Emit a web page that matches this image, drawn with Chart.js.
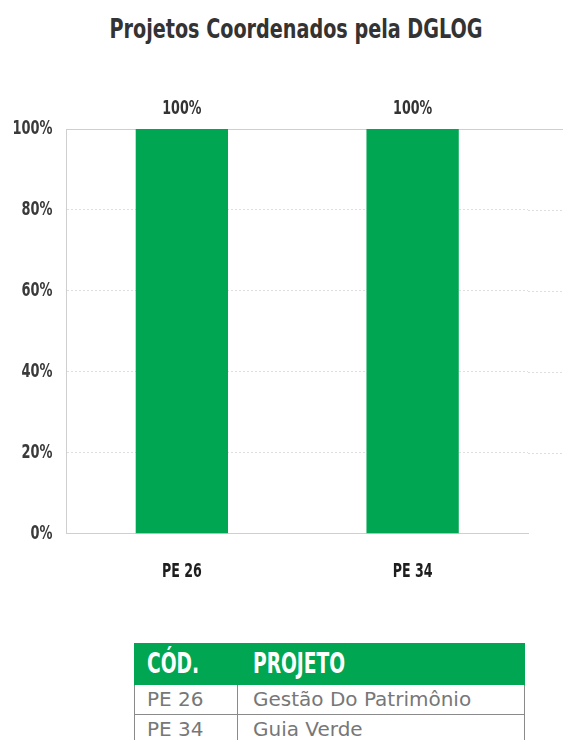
<!DOCTYPE html>
<html>
<head>
<meta charset="utf-8">
<script src="https://cdn.jsdelivr.net/npm/chart.js@4"></script>
<style>
  body { margin: 0; background: #fff; }
  #wrap { position: relative; width: 563px; height: 740px; overflow: hidden; }
  #title {
    position: absolute; left: 0; width: 592px; top: 14px; text-align: center;
    font-family: "DejaVu Sans Condensed", sans-serif; font-weight: bold; font-size: 26px;
    color: #333; transform: scaleX(0.82); transform-origin: 296px 0;
    line-height: 30px; margin: 0;
  }
  #projChart { position: absolute; left: 0; top: 0; }
  table {
    position: absolute; left: 134px; top: 643px;
    border-collapse: collapse; width: 391px;
  }
  th {
    background: #00a651; color: #fff; text-align: left;
    font-family: "DejaVu Sans Condensed", sans-serif;
    font-size: 28px; font-weight: bold; height: 40px; padding: 0 12px; line-height: 40px;
    border: 1px solid #00a651; white-space: nowrap;
  }
  th span { display: inline-block; transform: scaleX(0.74); transform-origin: 0 50%; }
  td {
    border: 1px solid #8a8a8a; color: #777; font-size: 20px;
    font-family: "DejaVu Sans", sans-serif;
    height: 29px; padding: 0 12px; line-height: 29px;
  }
  th:first-child, td:first-child { width: 78px; }
  th:last-child, td:last-child { padding-left: 15px; }
</style>
</head>
<body>
<div id="wrap">
  <h1 id="title">Projetos Coordenados pela DGLOG</h1>
  <canvas id="projChart" width="563" height="600"></canvas>
  <table id="projTable"><thead><tr></tr></thead><tbody></tbody></table>
</div>
<script>
// Dados do gráfico e da tabela
const categories = ['PE 26', 'PE 34'];
const percentValues = [100, 100];
const tableHeader = ['CÓD.', 'PROJETO'];
const projectNames = ['Gestão Do Patrimônio', 'Guia Verde'];

const FONT = '"DejaVu Sans Condensed", sans-serif';
const GREEN = '#00a651';

// texto estreito: fonte maior comprimida na horizontal
function narrowText(ctx, text, x, y, size, sx, align, color) {
  ctx.save();
  ctx.font = 'bold ' + size + 'px ' + FONT;
  ctx.fillStyle = color;
  ctx.textAlign = align;
  ctx.textBaseline = 'middle';
  ctx.translate(x, y);
  ctx.scale(sx, 1);
  ctx.fillText(text, 0, 0);
  ctx.restore();
}

// Rótulos dos eixos e dos valores desenhados com a fonte estreita
const narrowLabels = {
  id: 'narrowLabels',
  afterDatasetsDraw(chart) {
    const { ctx, scales, chartArea } = chart;
    const y = scales.y, x = scales.x;
    y.ticks.forEach(t => {
      narrowText(ctx, t.value + '%', chartArea.left - 14, y.getPixelForValue(t.value), 20, 0.72, 'right', '#3a3a3a');
    });
    categories.forEach((c, i) => {
      narrowText(ctx, c, x.getPixelForValue(i), chartArea.bottom + 38, 19, 0.74, 'center', '#1e1e1e');
    });
    chart.getDatasetMeta(0).data.forEach((bar, i) => {
      narrowText(ctx, percentValues[i] + '%', bar.x, bar.y - 20, 19, 0.74, 'center', '#333');
    });
  }
};

// Linhas de grade prolongadas até a borda direita; a de 100% é contínua
const gridExtend = {
  id: 'gridExtend',
  beforeDatasetsDraw(chart) {
    const { ctx, chartArea, scales } = chart;
    const y = scales.y;
    ctx.save();
    ctx.lineWidth = 1;
    y.ticks.forEach(t => {
      if (t.value === 0) return;
      const py = Math.round(y.getPixelForValue(t.value)) + 0.5;
      ctx.strokeStyle = t.value === y.max ? '#cfcfcf' : '#dedede';
      ctx.setLineDash(t.value === y.max ? [] : [2, 2]);
      ctx.beginPath();
      ctx.moveTo(t.value === y.max ? chartArea.left : chartArea.right, py);
      ctx.lineTo(chart.width, py);
      ctx.stroke();
    });
    ctx.restore();
  }
};

const ctx = document.getElementById('projChart').getContext('2d');
new Chart(ctx, {
  type: 'bar',
  data: {
    labels: categories,
    datasets: [{
      data: percentValues,
      backgroundColor: GREEN,
      barPercentage: 0.4,
      categoryPercentage: 1.0,
    }]
  },
  options: {
    responsive: false,
    animation: false,
    layout: { padding: { top: 129, right: 35, left: 0, bottom: 5 } },
    plugins: {
      legend: { display: false },
      tooltip: { enabled: false },
      title: { display: false }
    },
    scales: {
      x: {
        grid: { display: false },
        border: { color: '#cfcfcf' },
        ticks: { color: 'rgba(0,0,0,0)', font: { family: FONT, size: 16, weight: 'bold' }, padding: 17 }
      },
      y: {
        min: 0, max: 100,
        ticks: {
          stepSize: 20,
          color: 'rgba(0,0,0,0)',
          font: { family: FONT, size: 16, weight: 'bold' },
          padding: 11,
          callback: v => v + '%'
        },
        grid: {
          color: c => c.tick.value === 0 ? 'rgba(0,0,0,0)' : '#dedede',
          drawTicks: false
        },
        border: { color: '#cfcfcf', dash: [2, 2] }
      }
    }
  },
  plugins: [gridExtend, narrowLabels]
});

// Tabela de projetos
const headRow = document.querySelector('#projTable thead tr');
tableHeader.forEach(h => {
  const th = document.createElement('th');
  const span = document.createElement('span');
  span.textContent = h;
  th.appendChild(span);
  headRow.appendChild(th);
});
const tbody = document.querySelector('#projTable tbody');
categories.forEach((code, i) => {
  const tr = document.createElement('tr');
  [code, projectNames[i]].forEach(txt => {
    const td = document.createElement('td');
    td.textContent = txt;
    tr.appendChild(td);
  });
  tbody.appendChild(tr);
});
</script>
</body>
</html>
